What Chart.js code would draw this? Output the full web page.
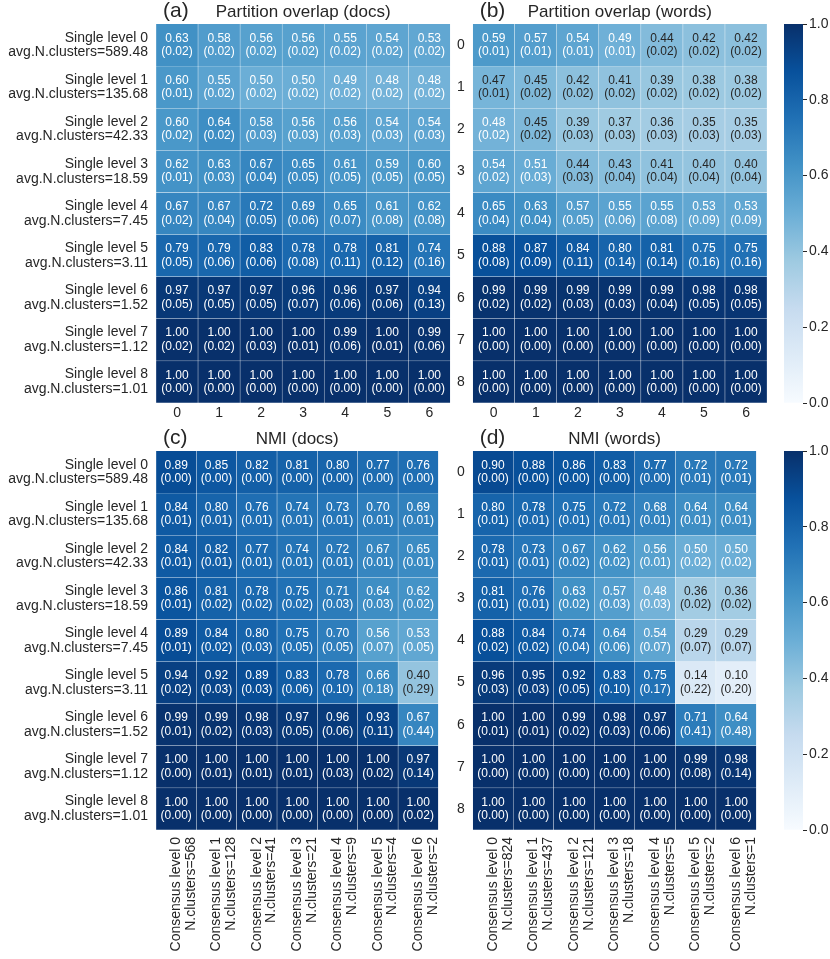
<!DOCTYPE html>
<html>
<head>
<meta charset="utf-8">
<script src="https://cdn.jsdelivr.net/npm/chart.js@4.4.1/dist/chart.umd.min.js"></script>
<style>
html, body { margin: 0; padding: 0; background: #fff; }
#wrap { position: relative; width: 830px; height: 959px; overflow: hidden; }
canvas { position: absolute; }
</style>
</head>
<body>
<div id="wrap">
  <canvas id="pa" width="455" height="430" style="left:0;top:0;width:455px;height:430px"></canvas>
  <canvas id="pb" width="318" height="430" style="left:455px;top:0;width:318px;height:430px"></canvas>
  <canvas id="cb1" width="55" height="430" style="left:775px;top:0;width:55px;height:430px"></canvas>
  <canvas id="pc" width="455" height="535" style="left:0;top:424px;width:455px;height:535px"></canvas>
  <canvas id="pd" width="318" height="535" style="left:455px;top:424px;width:318px;height:535px"></canvas>
  <canvas id="cb2" width="55" height="535" style="left:775px;top:424px;width:55px;height:535px"></canvas>
</div>
<script>
// 数据
const singleClusters = ["589.48", "135.68", "42.33", "18.59", "7.45", "3.11", "1.52", "1.12", "1.01"];
const docsClusters = [568, 128, 41, 21, 9, 4, 2];
const wordsClusters = [824, 437, 121, 18, 5, 2, 1];
const levelTicks = ["0", "1", "2", "3", "4", "5", "6", "7", "8"];
const colorbarTicks = [0, 0.2, 0.4, 0.6, 0.8, 1.0];

const overlapDocs = [
    [0.63, 0.58, 0.56, 0.56, 0.55, 0.54, 0.53],
    [0.60, 0.55, 0.50, 0.50, 0.49, 0.48, 0.48],
    [0.60, 0.64, 0.58, 0.56, 0.56, 0.54, 0.54],
    [0.62, 0.63, 0.67, 0.65, 0.61, 0.59, 0.60],
    [0.67, 0.67, 0.72, 0.69, 0.65, 0.61, 0.62],
    [0.79, 0.79, 0.83, 0.78, 0.78, 0.81, 0.74],
    [0.97, 0.97, 0.97, 0.96, 0.96, 0.97, 0.94],
    [1.00, 1.00, 1.00, 1.00, 0.99, 1.00, 0.99],
    [1.00, 1.00, 1.00, 1.00, 1.00, 1.00, 1.00],
];
const overlapDocsSd = [
    [0.02, 0.02, 0.02, 0.02, 0.02, 0.02, 0.02],
    [0.01, 0.02, 0.02, 0.02, 0.02, 0.02, 0.02],
    [0.02, 0.02, 0.03, 0.03, 0.03, 0.03, 0.03],
    [0.01, 0.03, 0.04, 0.05, 0.05, 0.05, 0.05],
    [0.02, 0.04, 0.05, 0.06, 0.07, 0.08, 0.08],
    [0.05, 0.06, 0.06, 0.08, 0.11, 0.12, 0.16],
    [0.05, 0.05, 0.05, 0.07, 0.06, 0.06, 0.13],
    [0.02, 0.02, 0.03, 0.01, 0.06, 0.01, 0.06],
    [0.00, 0.00, 0.00, 0.00, 0.00, 0.00, 0.00],
];
const overlapWords = [
    [0.59, 0.57, 0.54, 0.49, 0.44, 0.42, 0.42],
    [0.47, 0.45, 0.42, 0.41, 0.39, 0.38, 0.38],
    [0.48, 0.45, 0.39, 0.37, 0.36, 0.35, 0.35],
    [0.54, 0.51, 0.44, 0.43, 0.41, 0.40, 0.40],
    [0.65, 0.63, 0.57, 0.55, 0.55, 0.53, 0.53],
    [0.88, 0.87, 0.84, 0.80, 0.81, 0.75, 0.75],
    [0.99, 0.99, 0.99, 0.99, 0.99, 0.98, 0.98],
    [1.00, 1.00, 1.00, 1.00, 1.00, 1.00, 1.00],
    [1.00, 1.00, 1.00, 1.00, 1.00, 1.00, 1.00],
];
const overlapWordsSd = [
    [0.01, 0.01, 0.01, 0.01, 0.02, 0.02, 0.02],
    [0.01, 0.02, 0.02, 0.02, 0.02, 0.02, 0.02],
    [0.02, 0.02, 0.03, 0.03, 0.03, 0.03, 0.03],
    [0.02, 0.03, 0.03, 0.04, 0.04, 0.04, 0.04],
    [0.04, 0.04, 0.05, 0.06, 0.08, 0.09, 0.09],
    [0.08, 0.09, 0.11, 0.14, 0.14, 0.16, 0.16],
    [0.02, 0.02, 0.03, 0.03, 0.04, 0.05, 0.05],
    [0.00, 0.00, 0.00, 0.00, 0.00, 0.00, 0.00],
    [0.00, 0.00, 0.00, 0.00, 0.00, 0.00, 0.00],
];
const nmiDocs = [
    [0.89, 0.85, 0.82, 0.81, 0.80, 0.77, 0.76],
    [0.84, 0.80, 0.76, 0.74, 0.73, 0.70, 0.69],
    [0.84, 0.82, 0.77, 0.74, 0.72, 0.67, 0.65],
    [0.86, 0.81, 0.78, 0.75, 0.71, 0.64, 0.62],
    [0.89, 0.84, 0.80, 0.75, 0.70, 0.56, 0.53],
    [0.94, 0.92, 0.89, 0.83, 0.78, 0.66, 0.40],
    [0.99, 0.99, 0.98, 0.97, 0.96, 0.93, 0.67],
    [1.00, 1.00, 1.00, 1.00, 1.00, 1.00, 0.97],
    [1.00, 1.00, 1.00, 1.00, 1.00, 1.00, 1.00],
];
const nmiDocsSd = [
    [0.00, 0.00, 0.00, 0.00, 0.00, 0.00, 0.00],
    [0.01, 0.01, 0.01, 0.01, 0.01, 0.01, 0.01],
    [0.01, 0.01, 0.01, 0.01, 0.01, 0.01, 0.01],
    [0.01, 0.02, 0.02, 0.02, 0.03, 0.03, 0.02],
    [0.01, 0.02, 0.03, 0.05, 0.05, 0.07, 0.05],
    [0.02, 0.03, 0.03, 0.06, 0.10, 0.18, 0.29],
    [0.01, 0.02, 0.03, 0.05, 0.06, 0.11, 0.44],
    [0.00, 0.01, 0.01, 0.01, 0.03, 0.02, 0.14],
    [0.00, 0.00, 0.00, 0.00, 0.00, 0.00, 0.02],
];
const nmiWords = [
    [0.90, 0.88, 0.86, 0.83, 0.77, 0.72, 0.72],
    [0.80, 0.78, 0.75, 0.72, 0.68, 0.64, 0.64],
    [0.78, 0.73, 0.67, 0.62, 0.56, 0.50, 0.50],
    [0.81, 0.76, 0.63, 0.57, 0.48, 0.36, 0.36],
    [0.88, 0.84, 0.74, 0.64, 0.54, 0.29, 0.29],
    [0.96, 0.95, 0.92, 0.83, 0.75, 0.14, 0.10],
    [1.00, 1.00, 0.99, 0.98, 0.97, 0.71, 0.64],
    [1.00, 1.00, 1.00, 1.00, 1.00, 0.99, 0.98],
    [1.00, 1.00, 1.00, 1.00, 1.00, 1.00, 1.00],
];
const nmiWordsSd = [
    [0.00, 0.00, 0.00, 0.00, 0.00, 0.01, 0.01],
    [0.01, 0.01, 0.01, 0.01, 0.01, 0.01, 0.01],
    [0.01, 0.01, 0.02, 0.02, 0.01, 0.02, 0.02],
    [0.01, 0.01, 0.02, 0.03, 0.03, 0.02, 0.02],
    [0.02, 0.02, 0.04, 0.06, 0.07, 0.07, 0.07],
    [0.03, 0.03, 0.05, 0.10, 0.17, 0.22, 0.20],
    [0.01, 0.01, 0.02, 0.03, 0.06, 0.41, 0.48],
    [0.00, 0.00, 0.00, 0.00, 0.00, 0.08, 0.14],
    [0.00, 0.00, 0.00, 0.00, 0.00, 0.00, 0.00],
];

const FONT = '"Liberation Sans", Arial, sans-serif';
const TEXT = "#262626";
Chart.defaults.font.family = FONT;
Chart.defaults.color = TEXT;

// Blues 色带
const bluesStops = ["#f7fbff", "#deebf7", "#c6dbef", "#9ecae1", "#6baed6", "#4292c6", "#2171b5", "#08519c", "#08306b"];
const bluesRgb = bluesStops.map(h => [1, 3, 5].map(i => parseInt(h.substr(i, 2), 16)));

function bluesArr(v) {
    v = Math.max(0, Math.min(1, v));
    const p = v * 8;
    const i = Math.min(7, Math.floor(p));
    const t = p - i;
    return bluesRgb[i].map((c, k) => c + (bluesRgb[i + 1][k] - c) * t);
}

function blues(v) {
    const c = bluesArr(v);
    return `rgb(${c.map(Math.round).join(",")})`;
}

function textColor(v) {
    const lin = bluesArr(v).map(c => {
        c = c / 255;
        return c <= 0.03928 ? c / 12.92 : Math.pow((c + 0.055) / 1.055, 2.4);
    });
    const lum = 0.2126 * lin[0] + 0.7152 * lin[1] + 0.0722 * lin[2];
    return lum > 0.408 ? TEXT : "#ffffff";
}

function makeHeatmap(id, cfg) {
    const { values, sds, xLabels, yLabels, letter, title, rotate, yWidth, xHeight, padding, yPad, xPad } = cfg;

    // 单元格数值
    const cellText = {
        id: "cellText",
        afterDatasetsDraw(chart) {
            const ctx = chart.ctx;
            ctx.save();
            ctx.font = "12px " + FONT;
            ctx.textAlign = "center";
            ctx.textBaseline = "middle";
            values.forEach((row, r) => {
                chart.getDatasetMeta(r).data.forEach((bar, c) => {
                    const cy = (bar.y + bar.base) / 2;
                    ctx.fillStyle = textColor(row[c]);
                    ctx.fillText(row[c].toFixed(2), bar.x, cy - 6.7);
                    ctx.fillText("(" + sds[r][c].toFixed(2) + ")", bar.x, cy + 6.7);
                });
            });
            ctx.restore();
        },
    };

    // 标题
    const panelTitle = {
        id: "panelTitle",
        afterDraw(chart) {
            const { left, right, top } = chart.chartArea;
            const ctx = chart.ctx;
            ctx.save();
            ctx.fillStyle = TEXT;
            ctx.textBaseline = "middle";
            ctx.textAlign = "left";
            ctx.font = "21px " + FONT;
            ctx.fillText(letter, left + 7, top - 13);
            ctx.textAlign = "center";
            ctx.font = "17px " + FONT;
            ctx.fillText(title, (left + right) / 2, top - 12);
            ctx.restore();
        },
    };

    return new Chart(document.getElementById(id), {
        type: "bar",
        data: {
            labels: xLabels,
            datasets: values.map((row) => ({
                data: row.map(() => 1),
                backgroundColor: row.map(v => blues(v)),
                borderColor: "rgba(255,255,255,0.75)",
                borderWidth: 0.5,
                barPercentage: 1,
                categoryPercentage: 1,
            })),
        },
        options: {
            responsive: false,
            animation: false,
            devicePixelRatio: 1,
            layout: { padding: padding },
            plugins: { legend: { display: false }, tooltip: { enabled: false } },
            scales: {
                x: {
                    stacked: true,
                    grid: { display: false, drawTicks: false },
                    border: { display: false },
                    ticks: {
                        autoSkip: false,
                        minRotation: rotate ? 90 : 0,
                        maxRotation: rotate ? 90 : 0,
                        padding: xPad,
                        color: TEXT,
                        font: { size: 14, lineHeight: 1.05 },
                    },
                    afterFit: (s) => { s.height = xHeight; },
                },
                y: {
                    type: "linear",
                    stacked: true,
                    min: 0,
                    max: yLabels.length,
                    reverse: true,
                    grid: { display: false, drawTicks: false },
                    border: { display: false },
                    afterBuildTicks: (axis) => {
                        axis.ticks = yLabels.map((_, i) => ({ value: i + 0.5 }));
                    },
                    ticks: {
                        autoSkip: false,
                        padding: yPad,
                        color: TEXT,
                        font: { size: 14, lineHeight: 1.05 },
                        callback: (v) => yLabels[Math.floor(v)],
                    },
                    afterFit: (s) => { s.width = yWidth; },
                },
            },
        },
        plugins: [cellText, panelTitle],
    });
}

function makeColorbar(id, padding) {
    return new Chart(document.getElementById(id), {
        type: "bar",
        data: {
            labels: [""],
            datasets: [{
                data: [[0, 1]],
                barPercentage: 1,
                categoryPercentage: 1,
                borderWidth: 0,
                backgroundColor: (c) => {
                    const area = c.chart.chartArea;
                    if (!area) return bluesStops[4];
                    const g = c.chart.ctx.createLinearGradient(0, area.bottom, 0, area.top);
                    bluesStops.forEach((s, i) => g.addColorStop(i / 8, s));
                    return g;
                },
            }],
        },
        options: {
            responsive: false,
            animation: false,
            devicePixelRatio: 1,
            layout: { padding: padding },
            plugins: { legend: { display: false }, tooltip: { enabled: false } },
            scales: {
                x: { display: false },
                y: {
                    position: "right",
                    min: 0,
                    max: 1,
                    border: { display: false },
                    grid: { drawOnChartArea: false, drawTicks: true, tickLength: 4, color: TEXT },
                    afterBuildTicks: (axis) => {
                        axis.ticks = colorbarTicks.map(v => ({ value: v }));
                    },
                    ticks: {
                        padding: 2,
                        color: TEXT,
                        font: { size: 14 },
                        callback: (v) => v.toFixed(1),
                    },
                    afterFit: (s) => { s.width = 27; },
                },
            },
        },
    });
}

const singleLabels = singleClusters.map((n, i) => ["Single level " + i, "avg.N.clusters=" + n]);
const docsLabels = docsClusters.map((n, i) => ["Consensus level " + i, "N.clusters=" + n]);
const wordsLabels = wordsClusters.map((n, i) => ["Consensus level " + i, "N.clusters=" + n]);
const colTicks = levelTicks.slice(0, 7);

makeHeatmap("pa", {
    values: overlapDocs, sds: overlapDocsSd, xLabels: colTicks, yLabels: singleLabels,
    letter: "(a)", title: "Partition overlap (docs)", rotate: false,
    yWidth: 156, xHeight: 27, padding: { left: 0, top: 24, right: 4.65, bottom: 0 }, yPad: 8, xPad: 3,
});
makeHeatmap("pb", {
    values: overlapWords, sds: overlapWordsSd, xLabels: colTicks, yLabels: levelTicks,
    letter: "(b)", title: "Partition overlap (words)", rotate: false,
    yWidth: 17.7, xHeight: 27, padding: { left: 0, top: 24, right: 5.95, bottom: 0 }, yPad: 8, xPad: 3,
});
makeHeatmap("pc", {
    values: nmiDocs, sds: nmiDocsSd, xLabels: docsLabels, yLabels: singleLabels,
    letter: "(c)", title: "NMI (docs)", rotate: true,
    yWidth: 156, xHeight: 129, padding: { left: 0, top: 27, right: 4.65, bottom: 0 }, yPad: 8, xPad: 7,
});
makeHeatmap("pd", {
    values: nmiWords, sds: nmiWordsSd, xLabels: wordsLabels, yLabels: levelTicks,
    letter: "(d)", title: "NMI (words)", rotate: true,
    yWidth: 17.7, xHeight: 129, padding: { left: 0, top: 27, right: 5.95, bottom: 0 }, yPad: 8, xPad: 7,
});
makeColorbar("cb1", { left: 9, top: 24, right: 0, bottom: 27 });
makeColorbar("cb2", { left: 9, top: 27, right: 0, bottom: 129 });
</script>
</body>
</html>
